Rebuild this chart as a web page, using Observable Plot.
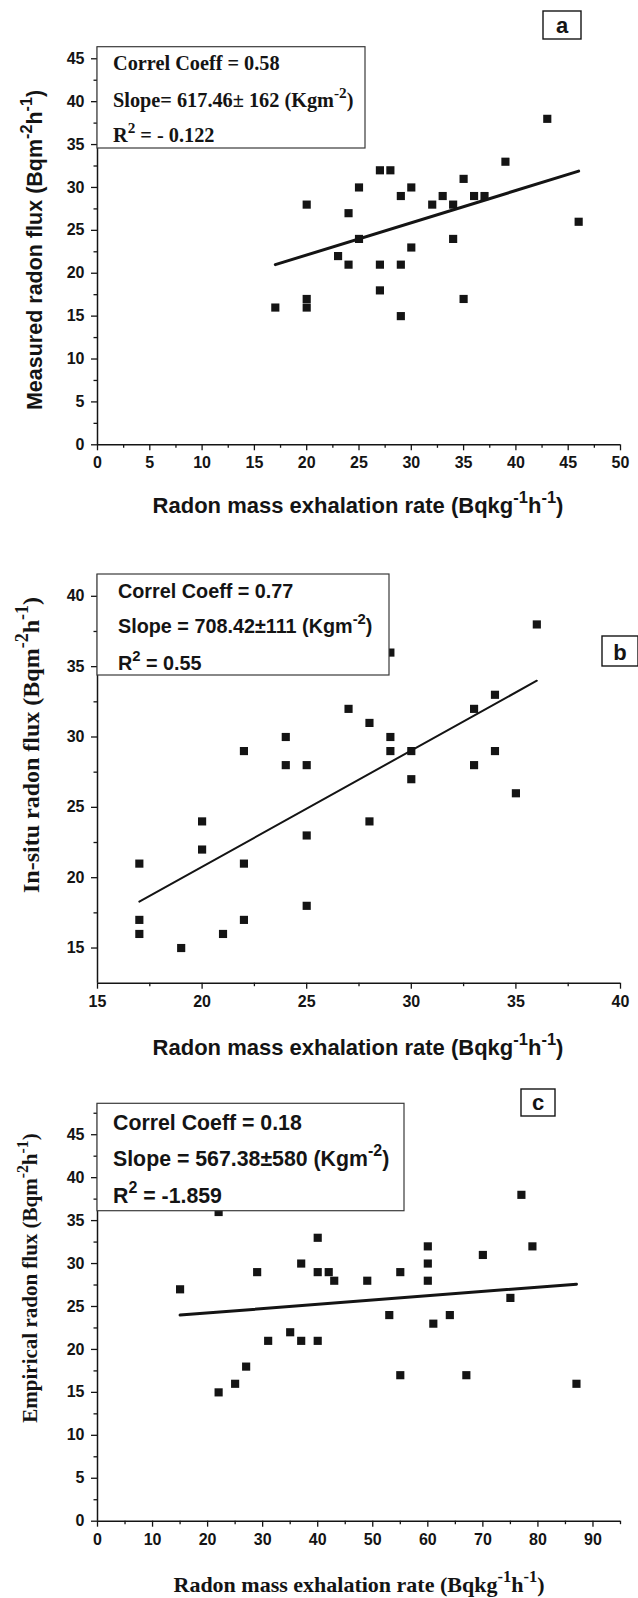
<!DOCTYPE html>
<html>
<head>
<meta charset="utf-8">
<script src="https://cdn.jsdelivr.net/npm/d3@7"></script>
<script src="https://cdn.jsdelivr.net/npm/@observablehq/plot@0.6"></script>
<style>
  html, body { margin: 0; padding: 0; background: #fff; }
  #wrap { position: relative; width: 638px; height: 1598px; overflow: hidden; background: #fff; }
  #wrap svg { position: absolute; left: 0; }
</style>
</head>
<body>
<div id="wrap"></div>
<script>
// ---------- Panel a data ----------
const aX = [17,20,20,20,23,24,24,25,25,27,27,27,28,29,29,29,30,30,32,33,34,34,35,35,36,37,39,43,46];
const aY = [16,28,17,16,22,27,21,30,24,32,21,18,32,29,21,15,30,23,28,29,28,24,31,17,29,29,33,38,26];
const aFitX = [17, 46];
const aFitY = [21.0, 31.9];
const aXTicks = [0,5,10,15,20,25,30,35,40,45,50];
const aXMinor = [2.5,7.5,12.5,17.5,22.5,27.5,32.5,37.5,42.5,47.5];
const aYTicks = [0,5,10,15,20,25,30,35,40,45];
const aYMinor = [2.5,7.5,12.5,17.5,22.5,27.5,32.5,37.5,42.5];

// ---------- Panel b data ----------
const bX = [17,17,17,19,20,20,21,22,22,22,24,24,25,25,25,27,28,28,29,29,29,30,30,33,33,34,34,35,36];
const bY = [21,17,16,15,24,22,16,29,21,17,30,28,28,23,18,32,31,24,36,30,29,29,27,32,28,33,29,26,38];
const bFitX = [17, 36];
const bFitY = [18.3, 34.0];
const bXTicks = [15,20,25,30,35,40];
const bXMinor = [17.5,22.5,27.5,32.5,37.5];
const bYTicks = [15,20,25,30,35,40];
const bYMinor = [17.5,22.5,27.5,32.5,37.5];

// ---------- Panel c data ----------
const cX = [15,22,22,25,27,29,31,35,37,37,40,40,40,42,43,49,53,55,55,60,60,60,61,64,67,70,75,77,79,87];
const cY = [27,36,15,16,18,29,21,22,30,21,33,29,21,29,28,28,24,29,17,32,30,28,23,24,17,31,26,38,32,16];
const cFitX = [15, 87];
const cFitY = [24.0, 27.6];
const cXTicks = [0,10,20,30,40,50,60,70,80,90];
const cXMinor = [5,15,25,35,45,55,65,75,85,95];
const cYTicks = [0,5,10,15,20,25,30,35,40,45];
const cYMinor = [2.5,7.5,12.5,17.5,22.5,27.5,32.5,37.5,42.5,47.5];

// ---------- texts ----------
const statsA = ["Correl Coeff = 0.58", "Slope= 617.46\u00b1 162 (Kgm", "R", " = - 0.122"];
const statsB = ["Correl Coeff = 0.77", "Slope = 708.42\u00b1111 (Kgm", "R", " = 0.55"];
const statsC = ["Correl Coeff = 0.18", "Slope = 567.38\u00b1580 (Kgm", "R", " = -1.859"];
const yLabelA = "Measured radon flux (Bqm";
const yLabelB = "In-situ radon flux (Bqm";
const yLabelC = "Empirical radon flux (Bqm";
const xLabel = "Radon mass exhalation rate (Bqkg";

const SANS = "'Liberation Sans Narrow', 'Arial Narrow', 'Liberation Sans', Arial, sans-serif";
const SANSW = "'Liberation Sans', Arial, sans-serif";
const SERIF = "'Liberation Serif', 'Times New Roman', serif";
const INK = "#141414";

const wrap = document.getElementById("wrap");

function richText(g, parts, {x, y, size, family, anchor = "start", rotate = 0, supScale = 0.75, supRise = 0.45}) {
  const t = g.append("text")
    .attr("transform", `translate(${x},${y}) rotate(${rotate})`)
    .attr("text-anchor", anchor)
    .attr("font-family", family)
    .attr("font-size", size)
    .attr("font-weight", "bold")
    .attr("fill", INK);
  let cur = 0;
  for (const [s, sup] of parts) {
    const sp = t.append("tspan").text(s);
    const target = sup ? -size * supRise : 0;
    sp.attr("dy", target - cur);
    if (sup) sp.attr("font-size", size * supScale);
    cur = target;
  }
  return t;
}

function panel(o) {
  const data = o.xs.map((x, i) => ({x, y: o.ys[i]}));
  const fit = o.fx.map((x, i) => ({x, y: o.fy[i]}));
  const svg = Plot.plot({
    width: 638, height: o.height,
    marginLeft: 97, marginRight: 18, marginTop: o.mt, marginBottom: o.mb,
    x: {domain: o.xDomain, label: null},
    y: {domain: o.yDomain, label: null},
    style: {fontFamily: SANS, fontSize: "16px", fontWeight: "bold", background: "white", color: INK, overflow: "visible"},
    marks: [
      Plot.axisX({ticks: o.xMaj, tickSize: 6, tickPadding: 6, tickFormat: d => String(d), fontSize: 16, fontWeight: "bold", strokeWidth: 1.3}),
      Plot.axisX({ticks: o.xMin, tickSize: 3.5, tickFormat: () => "", strokeWidth: 1.3}),
      Plot.axisY({ticks: o.yMaj, tickSize: 6, tickPadding: 7, tickFormat: d => String(d), fontSize: 16, fontWeight: "bold", strokeWidth: 1.3}),
      Plot.axisY({ticks: o.yMin, tickSize: 3.5, tickFormat: () => "", strokeWidth: 1.3}),
      Plot.ruleX([o.xDomain[0]], {stroke: INK, strokeWidth: 1.5}),
      Plot.ruleY([o.yDomain[0]], {stroke: INK, strokeWidth: 1.5}),
      Plot.dot(data, {x: "x", y: "y", symbol: "square", r: 4.6, fill: INK, stroke: null}),
      Plot.line(fit, {x: "x", y: "y", stroke: INK, strokeWidth: o.lineW})
    ]
  });
  svg.style.top = o.top + "px";
  wrap.appendChild(svg);
  // make sure tick labels are bold and large
  d3.select(svg).selectAll('g[aria-label$="tick label"], g[aria-label$="tick label"] text')
    .attr("font-size", 16).attr("font-weight", "bold").attr("font-family", SANS)
    .style("font-size", "16px").style("font-weight", "bold").style("font-family", SANS);
  const g = d3.select(svg).append("g");
  const T = o.top;
  // stats box
  const b = o.box;
  g.append("rect").attr("x", 97).attr("y", b.y - T).attr("width", b.w).attr("height", b.h)
    .attr("fill", "white").attr("stroke", "#3a3a3a").attr("stroke-width", 1.2);
  const s = o.stats;
  richText(g, [[s[0]]], {x: b.tx, y: b.l1 - T, size: b.size, family: b.family});
  richText(g, [[s[1]], ["-2", true], [")"]], {x: b.tx, y: b.l2 - T, size: b.size, family: b.family});
  richText(g, [[s[2]], ["2", true], [s[3]]], {x: b.tx, y: b.l3 - T, size: b.size, family: b.family});
  // letter box
  const L = o.letter;
  g.append("rect").attr("x", L.x).attr("y", L.y - T).attr("width", L.w).attr("height", L.h)
    .attr("fill", "white").attr("stroke", INK).attr("stroke-width", 1.4);
  g.append("text").attr("x", L.x + L.w / 2).attr("y", L.y - T + L.h - 6).attr("text-anchor", "middle")
    .attr("font-family", SANSW).attr("font-weight", "bold").attr("font-size", 22).attr("fill", INK).text(L.t);
  // axis labels
  richText(g, [[o.yLabel], ["-2", true], ["h"], ["-1", true], [")"]],
    {x: o.yl.x, y: o.yl.y - T, size: o.yl.size, family: o.yl.family, anchor: "middle", rotate: -90});
  richText(g, [[xLabel], ["-1", true], ["h"], ["-1", true], [")"]],
    {x: o.xl.x, y: o.xl.y - T, size: o.xl.size, family: o.xl.family, anchor: "middle"});
}

panel({
  top: 0, height: 530, mt: 46.7, mb: 85.7,
  xDomain: [0, 50], yDomain: [0, 46.35],
  xs: aX, ys: aY, fx: aFitX, fy: aFitY, lineW: 3,
  xMaj: aXTicks, xMin: aXMinor, yMaj: aYTicks, yMin: aYMinor,
  stats: statsA,
  box: {y: 46.7, w: 268, h: 101.3, tx: 113, l1: 70, l2: 107, l3: 142, size: 20.3, family: SERIF},
  letter: {x: 543, y: 11, w: 38, h: 28, t: "a"},
  yLabel: yLabelA, yl: {x: 42, y: 250, size: 21.5, family: SANS},
  xl: {x: 358, y: 513, size: 22, family: SANS}
});

panel({
  top: 530, height: 535, mt: 44, mb: 82.3,
  xDomain: [15, 40], yDomain: [12.5, 41.55],
  xs: bX, ys: bY, fx: bFitX, fy: bFitY, lineW: 2,
  xMaj: bXTicks, xMin: bXMinor, yMaj: bYTicks, yMin: bYMinor,
  stats: statsB,
  box: {y: 574, w: 292, h: 101, tx: 118, l1: 598, l2: 633, l3: 670, size: 19.8, family: SANS},
  letter: {x: 602, y: 636, w: 36, h: 30, t: "b"},
  yLabel: yLabelB, yl: {x: 39, y: 745, size: 24, family: SERIF},
  xl: {x: 358, y: 1055, size: 22, family: SANS}
});

panel({
  top: 1065, height: 533, mt: 38.3, mb: 77.3,
  xDomain: [0, 95], yDomain: [0, 48.6],
  xs: cX, ys: cY, fx: cFitX, fy: cFitY, lineW: 3,
  xMaj: cXTicks, xMin: cXMinor, yMaj: cYTicks, yMin: cYMinor,
  stats: statsC,
  box: {y: 1103.3, w: 307, h: 107.4, tx: 113, l1: 1130, l2: 1166, l3: 1203, size: 21.3, family: SANS},
  letter: {x: 521, y: 1089, w: 34, h: 27, t: "c"},
  yLabel: yLabelC, yl: {x: 37, y: 1278, size: 21, family: SERIF},
  xl: {x: 359, y: 1592, size: 22, family: SERIF}
});
</script>
</body>
</html>
